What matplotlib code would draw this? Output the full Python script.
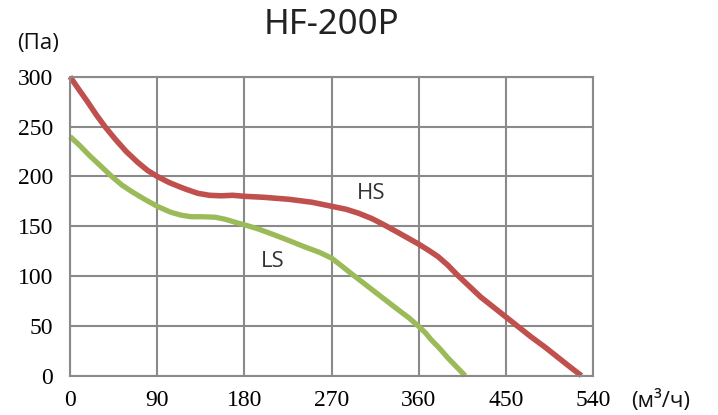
import matplotlib
matplotlib.use("Agg")
import matplotlib.pyplot as plt

# ---------------------------------------------------------------
# Data
# ---------------------------------------------------------------
x_ticks = [0, 90, 180, 270, 360, 450, 540]
y_ticks = [0, 50, 100, 150, 200, 250, 300]

# HS (high speed) curve: flow m3/h vs pressure Pa
hs_flow = [0, 10, 18, 27, 36, 47, 58, 70, 80, 90, 102, 112, 120, 132, 144, 156,
           168, 180, 200, 226, 250, 270, 285, 298, 312, 325, 339, 350, 360, 370,
           380, 390, 400, 412, 424, 437, 450, 463, 476, 490, 503, 516, 528]
hs_pres = [300, 286, 275, 262, 250, 237, 225, 214, 206, 200, 194, 190, 187, 183,
           181, 180.5, 181, 180, 179, 177, 174, 170, 167, 163, 157.5, 151, 143.5,
           137.5, 132, 126, 119.5, 111, 101, 90, 79, 69, 59, 49, 39, 29, 19, 9, 0]

# LS (low speed) curve
ls_flow = [0, 10, 20, 31, 43, 54, 65, 77, 90, 104, 115, 125, 137, 150, 160, 174,
           185, 195, 209, 225, 243, 257, 270, 280, 291, 301, 311, 325, 339, 350,
           360, 367, 373, 382, 390, 399, 408]
ls_pres = [240, 231, 221, 211, 200, 191, 184, 177, 170, 164, 161, 159.5, 159.5,
           159, 157, 153, 150, 147, 142, 136, 129, 124, 118, 110.5, 102, 94.5, 87,
           76.5, 66, 58, 49.5, 43, 36, 27, 18, 9, 0]

title = "HF-200P"
y_unit = "(Па)"
x_unit = "(м³/ч)"

# ---------------------------------------------------------------
# Figure
# ---------------------------------------------------------------
plt.rcParams["font.family"] = ["Liberation Serif", "DejaVu Serif"]

fig = plt.figure(figsize=(7.18, 4.15), dpi=100)
ax = fig.add_axes([70 / 718, 1 - 375.7 / 415, 523 / 718, 299 / 415])

grid_col = "#8a8a8a"
ax.set_xlim(0, 540)
ax.set_ylim(0, 300)
ax.set_xticks(x_ticks)
ax.set_yticks(y_ticks)
ax.grid(True, color=grid_col, linewidth=1.5)
ax.set_axisbelow(True)
for s in ax.spines.values():
    s.set_color(grid_col)
    s.set_linewidth(1.5)
ax.tick_params(length=0, labelsize=17)
ax.tick_params(axis="y", pad=12)
ax.tick_params(axis="x", pad=10)

ax.plot(hs_flow, hs_pres, color="#C0504D", linewidth=4, clip_on=False,
        solid_capstyle="butt", solid_joinstyle="round")
ax.plot(ls_flow, ls_pres, color="#9BBB59", linewidth=3.8, clip_on=False,
        solid_capstyle="butt", solid_joinstyle="round")

# curve labels
sans = ["Open Sans", "DejaVu Sans"]
ax.text(311, 183, "HS", ha="center", va="center", fontsize=16,
        family=sans, color="#333333")
ax.text(209, 115, "LS", ha="center", va="center", fontsize=16,
        family=sans, color="#333333")

# title and unit labels
fig.text(331 / 718, 1 - 25 / 415, title, ha="center", va="center",
         fontsize=25, family=["Noto Sans", "DejaVu Sans"], color="#222222")
fig.text(38 / 718, 1 - 44 / 415, y_unit, ha="center", va="center",
         fontsize=16, family=sans, color="#111111")
fig.text(661 / 718, 1 - 401 / 415, x_unit, ha="center", va="center",
         fontsize=16, family=sans, color="#111111")

fig.savefig("out.png", dpi=100)
